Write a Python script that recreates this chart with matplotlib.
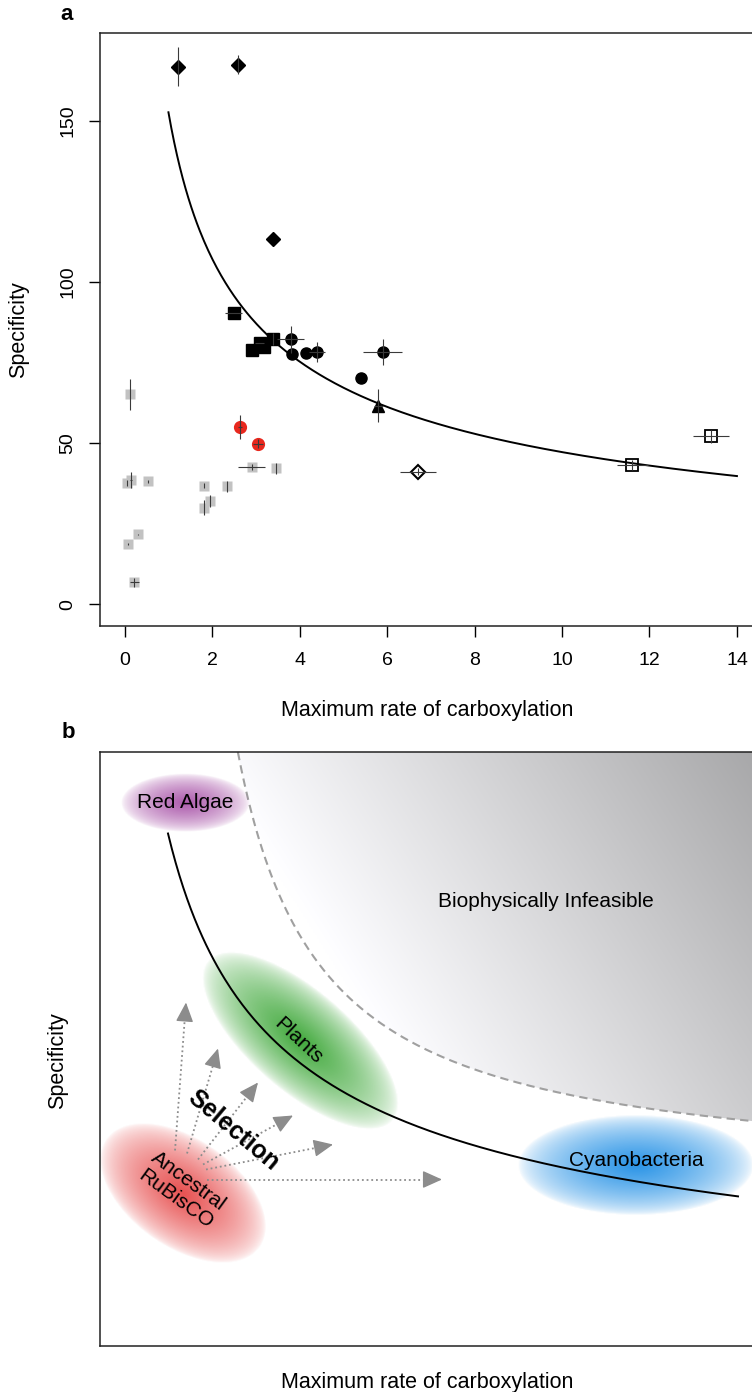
import numpy as np
import matplotlib
matplotlib.use('Agg')
import matplotlib.pyplot as plt
from matplotlib.patches import Polygon

plt.rcParams['font.family'] = ['Liberation Sans', 'DejaVu Sans']

# ---- panel a: measured specificity vs carboxylation rate ----
dia_x = [1.22, 2.60, 3.39]
dia_y = [166.8, 167.4, 113.4]
dia_xerr = [0.0, 0.0, 0.0]
dia_yerr = [6.0, 3.0, 0.0]

sq_x = [2.49, 2.90, 3.09, 3.19, 3.38]
sq_y = [90.3, 78.9, 81.1, 79.9, 82.2]
sq_xerr = [0.20, 0.0, 0.10, 0.0, 0.0]
sq_yerr = [0.0, 0.0, 0.0, 0.0, 1.8]

circ_x = [3.80, 3.83, 4.14, 4.40, 5.40, 5.90]
circ_y = [82.2, 77.5, 77.8, 78.2, 70.1, 78.2]
circ_xerr = [0.31, 0.0, 0.0, 0.19, 0.0, 0.45]
circ_yerr = [4.2, 0.0, 0.0, 3.0, 0.0, 4.1]

tri_x = [5.80]
tri_y = [61.5]
tri_xerr = [0.10]
tri_yerr = [5.1]

red_x = [2.64, 3.05]
red_y = [54.9, 49.7]
red_xerr = [0.05, 0.12]
red_yerr = [3.7, 1.4]

odia_x = [6.70]
odia_y = [41.1]
odia_xerr = [0.41]
odia_yerr = [1.2]

osq_x = [11.61, 13.41]
osq_y = [43.1, 52.1]
osq_xerr = [0.36, 0.41]
osq_yerr = [1.5, 2.0]

grey_x = [0.12, 2.90, 3.47, 0.05, 0.15, 0.53, 1.81, 2.33, 1.95, 1.82, 0.30, 0.08, 0.22]
grey_y = [65.1, 42.6, 42.1, 37.6, 38.4, 38.1, 36.7, 36.5, 32.0, 29.9, 21.6, 18.5, 6.7]
grey_xerr = [0.0, 0.30, 0.0, 0.0, 0.02, 0.0, 0.0, 0.0, 0.0, 0.0, 0.0, 0.0, 0.10]
grey_yerr = [4.8, 1.0, 1.8, 1.0, 2.5, 0.5, 0.8, 1.8, 1.8, 2.3, 0.3, 0.3, 1.5]

# power-law fit  S = A * kcat^-k
fit_a = 152.6
fit_k = 0.51
fit_range = (1.0, 14.0)

x_ticks = [0, 2, 4, 6, 8, 10, 12, 14]
y_ticks = [0, 50, 100, 150]

W, H = 752, 1392
fig = plt.figure(figsize=(W / 100, H / 100), dpi=100)

ax = fig.add_axes([100 / W, (H - 626) / H, 654 / W, 593 / H])
ax.set_xlim(-0.565, 14.39)
ax.set_ylim(-6.8, 177.2)


def points(x, y, xerr, yerr, z=3, **kw):
    ax.plot(x, y, linestyle='none', zorder=z, **kw)
    ax.errorbar(x, y, xerr=xerr, yerr=yerr, fmt='none', ecolor='#3a3a3a',
                elinewidth=0.8, capsize=0, zorder=z + 0.5)


points(grey_x, grey_y, grey_xerr, grey_yerr, z=2, marker='s', ms=7.5,
       mfc='#c2c2c2', mec='none')
points(dia_x, dia_y, dia_xerr, dia_yerr, marker='D', ms=7.5, color='black')
points(sq_x, sq_y, sq_xerr, sq_yerr, marker='s', ms=8, color='black')
points(circ_x, circ_y, circ_xerr, circ_yerr, marker='o', ms=8, color='black')
points(tri_x, tri_y, tri_xerr, tri_yerr, marker='^', ms=9, color='black')
points(red_x, red_y, red_xerr, red_yerr, marker='o', ms=9.5, mfc='#e8281e', mec='none')
points(odia_x, odia_y, odia_xerr, odia_yerr, marker='D', ms=7.5, mfc='none',
       mec='black', mew=1.5)
points(osq_x, osq_y, osq_xerr, osq_yerr, marker='s', ms=8, mfc='none',
       mec='black', mew=1.3)

xs = np.linspace(fit_range[0], fit_range[1], 400)
ax.plot(xs, fit_a * xs ** -fit_k, color='black', lw=1.4, zorder=2.5)

ax.set_xticks(x_ticks)
ax.set_yticks(y_ticks)
ax.set_yticklabels([str(v) for v in y_ticks], rotation=90, va='center')
ax.tick_params(direction='out', length=8, width=1, labelsize=14)
ax.tick_params(axis='x', pad=11)
ax.tick_params(axis='y', pad=9)
for s in ax.spines.values():
    s.set_linewidth(1.1)
    s.set_color('#222222')
ax.set_xlabel('Maximum rate of carboxylation', fontsize=15.5)
ax.xaxis.set_label_coords(0.5, -0.125)
ax.set_ylabel('Specificity', fontsize=15.5)
ax.yaxis.set_label_coords(-0.108, 0.5)
fig.text(67 / W, 1 - 15 / H, 'a', fontsize=16, fontweight='bold', ha='center', va='center')

# ---- panel b: schematic of the trade-off ----
bx = fig.add_axes([100 / W, (H - 1345.5) / H, 654 / W, 593.5 / H])
bw, bh = 654, 593.5
bx.set_xticks([])
bx.set_yticks([])
for s in bx.spines.values():
    s.set_linewidth(1.1)
    s.set_color('#222222')

# infeasible boundary  y = y0 + c / (x - x0)
bound_c, bound_x0, bound_y0 = 35500.0, 55.0, 165.0
bx_start = bound_x0 + bound_c / (bh - bound_y0)
bxs = np.linspace(bx_start, bw, 300)
bys = bound_y0 + bound_c / (bxs - bound_x0)

# grey shading above the boundary, darker towards upper right
ang = np.radians(32)
gx, gy = np.meshgrid(np.linspace(0, bw, 330), np.linspace(0, bh, 300))
proj = (gx + 100) * np.cos(ang) + gy * np.sin(ang)
p_lo = 100 * np.cos(ang) + 230 * np.cos(ang) + 420 * np.sin(ang)
p_hi = (bw + 100) * np.cos(ang) + bh * np.sin(ang)
lev = np.clip(252 - (proj - p_lo) * 84 / (p_hi - p_lo), 165, 255) / 255
grad = np.clip(np.dstack([lev, lev, lev * 1.01]), 0, 1)
region = Polygon(np.column_stack([np.r_[bxs, bw, bx_start], np.r_[bys, bh, bh]]),
                 closed=True, facecolor='none', edgecolor='none')
bx.add_patch(region)
im = bx.imshow(grad, extent=(0, bw, 0, bh), origin='lower', aspect='auto',
               interpolation='bilinear', zorder=0)
im.set_clip_path(region)
bx.plot(bxs, bys, color='#a0a0a0', lw=1.5, ls=(0, (4, 2.5)), zorder=1)


def blob(cx, cy, a, b, ang, rgb, amax):
    r = max(a, b) * 1.05
    ex = np.linspace(cx - r, cx + r, 220)
    ey = np.linspace(cy - r, cy + r, 220)
    X, Y = np.meshgrid(ex, ey)
    t = np.radians(ang)
    u = (X - cx) * np.cos(t) + (Y - cy) * np.sin(t)
    v = -(X - cx) * np.sin(t) + (Y - cy) * np.cos(t)
    d = np.sqrt((u / a) ** 2 + (v / b) ** 2)
    img = np.zeros(X.shape + (4,))
    img[..., :3] = rgb
    img[..., 3] = amax * np.clip(1 - d, 0, 1) ** 0.6
    bx.imshow(img, extent=(cx - r, cx + r, cy - r, cy + r), origin='lower',
              aspect='auto', interpolation='bilinear', zorder=2)


blob(85, 543, 64, 29, 0, (0.62, 0.25, 0.62), 0.85)
blob(200, 305, 122, 50, -41, (0.22, 0.65, 0.20), 0.95)
blob(83, 152, 94, 54, -35, (0.90, 0.25, 0.25), 0.9)
blob(536, 180, 118, 50, 0, (0.12, 0.56, 0.90), 0.95)

bx.set_xlim(0, bw)
bx.set_ylim(0, bh)

# achievable front  y = c * (x / x0)^-k
front_c, front_x0, front_k = 512.0, 68.0, 0.551
fxs = np.linspace(68, 638, 300)
bx.plot(fxs, front_c * (fxs / front_x0) ** -front_k, color='black', lw=1.4, zorder=4)

# selection arrows out of the ancestral enzyme
arrow_start = [(75, 195), (87, 192), (98, 186), (103, 181), (106, 176), (107, 166)]
arrow_end = [(86, 343), (118, 297), (158, 263), (193, 230), (233, 201), (342, 166)]
for (x0, y0), (x1, y1) in zip(arrow_start, arrow_end):
    dx, dy = x1 - x0, y1 - y0
    n = np.hypot(dx, dy)
    hx, hy = x1 - dx / n * 11, y1 - dy / n * 11
    bx.plot([x0, hx], [y0, hy], color='#8c8c8c', lw=1.3, ls=(0, (1, 1.6)), zorder=5)
    bx.annotate('', xy=(x1, y1), xytext=(hx - dx / n, hy - dy / n),
                arrowprops=dict(arrowstyle='-|>,head_length=0.6,head_width=0.27',
                                color='#8c8c8c', lw=1, mutation_scale=20,
                                shrinkA=0, shrinkB=0), zorder=5)

lab = dict(fontsize=15, ha='center', va='center', zorder=6)
bx.text(85, 543, 'Red Algae', **lab)
bx.text(446, 444, 'Biophysically Infeasible', **lab)
bx.text(198, 305, 'Plants', rotation=-43, rotation_mode='anchor', **lab)
bx.text(82, 155, 'Ancestral\nRuBisCO', rotation=-36, rotation_mode='anchor',
        linespacing=1.2, **lab)
bx.text(536, 185, 'Cyanobacteria', **lab)
bx.text(133, 215, 'Selection', fontsize=18, fontweight='bold', rotation=-40,
        rotation_mode='anchor', ha='center', va='center', zorder=6)

bx.set_xlabel('Maximum rate of carboxylation', fontsize=15.5)
bx.xaxis.set_label_coords(0.5, -0.044)
bx.set_ylabel('Specificity', fontsize=15.5)
bx.yaxis.set_label_coords(-0.049, 0.48)
fig.text(68 / W, 1 - 733 / H, 'b', fontsize=16, fontweight='bold', ha='center', va='center')

fig.savefig('out.png', dpi=100)
